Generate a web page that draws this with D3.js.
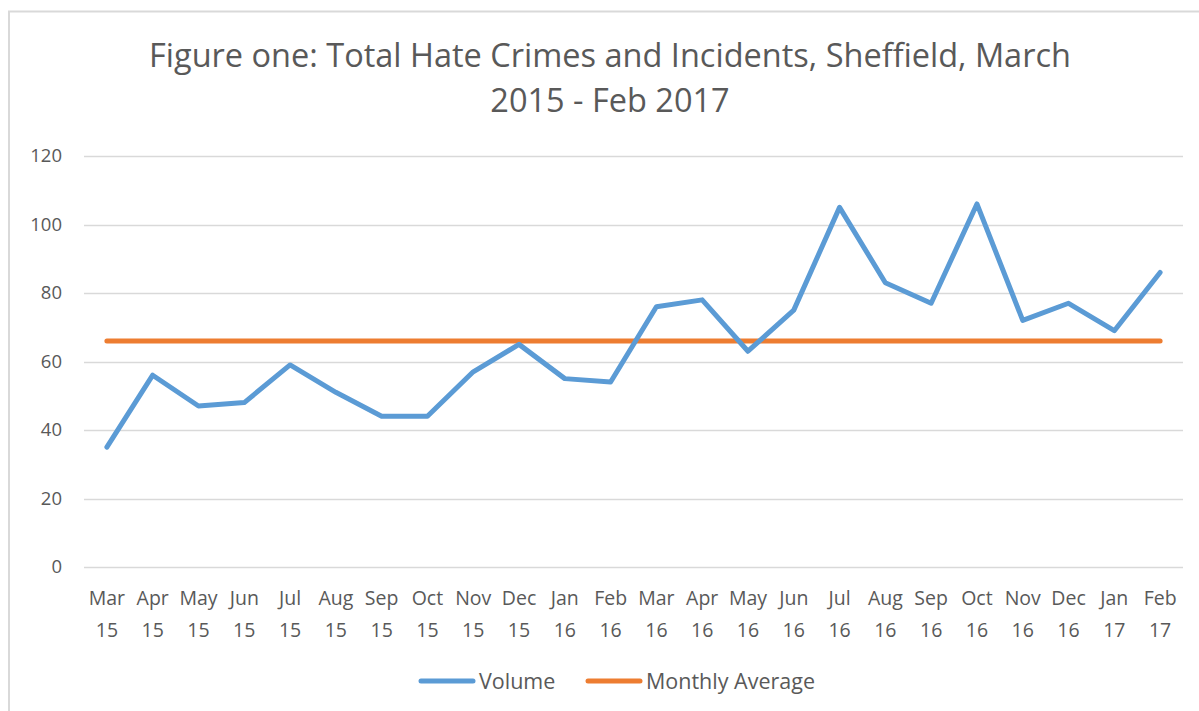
<!DOCTYPE html>
<html>
<head>
<meta charset="utf-8">
<script src="https://cdn.jsdelivr.net/npm/d3@7"></script>
<style>
  html, body { margin: 0; padding: 0; background: #fff; }
  svg { display: block; font-family: 'Open Sans', 'Noto Sans', sans-serif; }
</style>
</head>
<body>
<svg id="chart" width="1199" height="711"></svg>
<script>
// chart data
const months = ['Mar', 'Apr', 'May', 'Jun', 'Jul', 'Aug', 'Sep', 'Oct', 'Nov', 'Dec', 'Jan', 'Feb',
  'Mar', 'Apr', 'May', 'Jun', 'Jul', 'Aug', 'Sep', 'Oct', 'Nov', 'Dec', 'Jan', 'Feb'];
const years = ['15', '15', '15', '15', '15', '15', '15', '15', '15', '15', '16', '16',
  '16', '16', '16', '16', '16', '16', '16', '16', '16', '16', '17', '17'];
const volume = [35, 56, 47, 48, 59, 51, 44, 44, 57, 65, 55, 54,
  76, 78, 63, 75, 105, 83, 77, 106, 72, 77, 69, 86];
const monthlyAverage = [66, 66, 66, 66, 66, 66, 66, 66, 66, 66, 66, 66,
  66, 66, 66, 66, 66, 66, 66, 66, 66, 66, 66, 66];
const yTicks = [0, 20, 40, 60, 80, 100, 120];
const titleLines = ['Figure one: Total Hate Crimes and Incidents, Sheffield, March', '2015 - Feb 2017'];

const svg = d3.select('#chart');
const textColor = '#595959';

const plot = { left: 84, right: 1183, top: 156, bottom: 567 };

const keys = months.map((m, i) => i);
const x = d3.scaleBand()
  .domain(keys)
  .range([plot.left, plot.right]);
const y = d3.scaleLinear()
  .domain([0, 120])
  .range([plot.bottom, plot.top]);

// outer frame (only top and left edges visible)
svg.append('path')
  .attr('d', 'M9,711 L9,11.5 L1199,11.5')
  .attr('fill', 'none')
  .attr('stroke', '#d9d9d9')
  .attr('stroke-width', 2);

// title
svg.append('text')
  .attr('x', 610)
  .attr('y', 67)
  .attr('text-anchor', 'middle')
  .attr('fill', textColor)
  .style('font-size', '32.5px')
  .selectAll('tspan')
  .data(titleLines)
  .join('tspan')
  .attr('x', 610)
  .attr('dy', (d, i) => (i === 0 ? 0 : 45))
  .text(d => d);

// gridlines
svg.append('g')
  .selectAll('line')
  .data(yTicks)
  .join('line')
  .attr('x1', plot.left)
  .attr('x2', plot.right)
  .attr('y1', d => Math.round(y(d)) + 0.5)
  .attr('y2', d => Math.round(y(d)) + 0.5)
  .attr('stroke', '#d9d9d9')
  .attr('stroke-width', 1.5);

// y axis labels
const yAxis = svg.append('g')
  .attr('transform', `translate(${plot.left - 22},0)`)
  .call(d3.axisLeft(y).tickValues(yTicks).tickSize(0).tickPadding(0));
yAxis.select('.domain').remove();
yAxis.selectAll('text')
  .attr('fill', textColor)
  .style('font-size', '18.5px')
  .style('font-family', "'Open Sans', sans-serif");

// x axis labels, two lines
const xAxis = svg.append('g')
  .attr('transform', `translate(0,${plot.bottom})`)
  .call(d3.axisBottom(x).tickSize(0).tickFormat(''));
xAxis.select('.domain').remove();
xAxis.selectAll('.tick').each(function (d) {
  const t = d3.select(this).append('text')
    .attr('text-anchor', 'middle')
    .attr('fill', textColor)
    .style('font-size', '19.5px')
    .style('font-family', "'Open Sans', sans-serif");
  t.append('tspan').attr('x', 0).attr('y', 38).text(months[d]);
  t.append('tspan').attr('x', 0).attr('y', 70).text(years[d]);
});

const cx = i => x(i) + x.bandwidth() / 2;
const line = d3.line()
  .x((d, i) => cx(i))
  .y(d => y(d));

svg.append('path')
  .datum(monthlyAverage)
  .attr('d', line)
  .attr('fill', 'none')
  .attr('stroke', '#ed7d31')
  .attr('stroke-width', 5)
  .attr('stroke-linecap', 'round');

svg.append('path')
  .datum(volume)
  .attr('d', line)
  .attr('fill', 'none')
  .attr('stroke', '#5b9bd5')
  .attr('stroke-width', 5)
  .attr('stroke-linecap', 'round')
  .attr('stroke-linejoin', 'round');

// legend
const legendItems = [
  { name: 'Volume', color: '#5b9bd5', x: 421 },
  { name: 'Monthly Average', color: '#ed7d31', x: 588 },
];
const legend = svg.append('g').attr('transform', 'translate(0,681)');
legendItems.forEach(item => {
  legend.append('line')
    .attr('x1', item.x).attr('x2', item.x + 52)
    .attr('y1', 0).attr('y2', 0)
    .attr('stroke', item.color)
    .attr('stroke-width', 5)
    .attr('stroke-linecap', 'round');
  legend.append('text')
    .attr('x', item.x + 58)
    .attr('y', 7.5)
    .attr('fill', textColor)
    .style('font-size', '21.5px')
    .text(item.name);
});
</script>
</body>
</html>
